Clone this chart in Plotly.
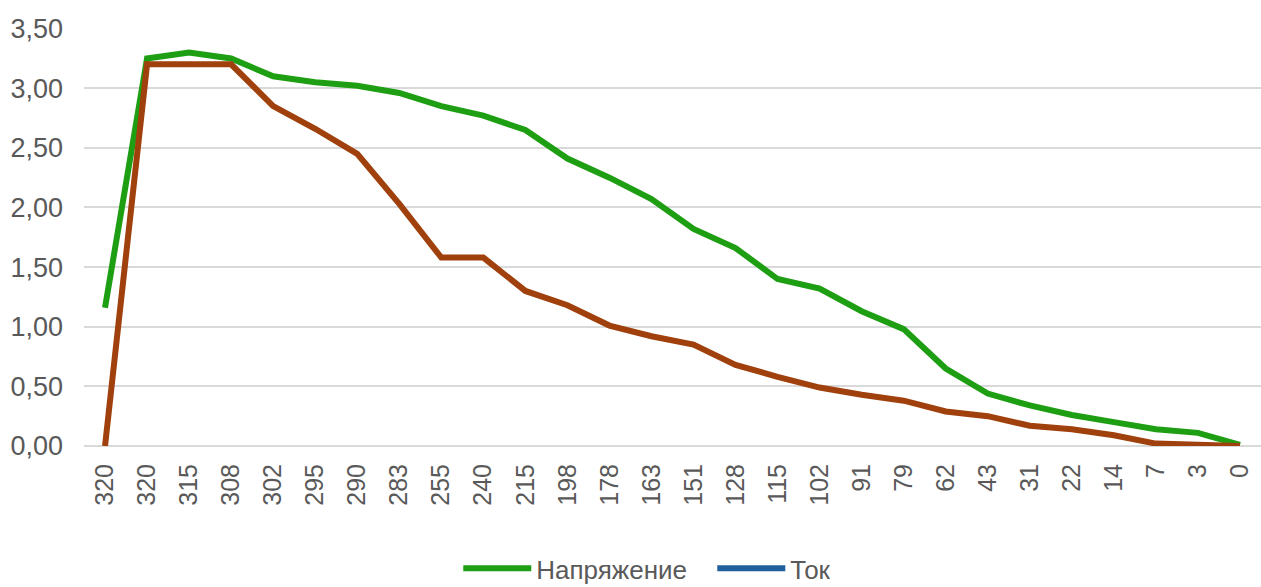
import plotly.graph_objects as go

categories = ["320", "320", "315", "308", "302", "295", "290", "283", "255", "240",
              "215", "198", "178", "163", "151", "128", "115", "102", "91", "79",
              "62", "43", "31", "22", "14", "7", "3", "0"]

voltage = [1.16, 3.25, 3.30, 3.25, 3.10, 3.05, 3.02, 2.96, 2.85, 2.77,
           2.65, 2.41, 2.25, 2.07, 1.82, 1.66, 1.40, 1.32, 1.13, 0.98,
           0.65, 0.44, 0.34, 0.26, 0.20, 0.14, 0.11, 0.01]

second_series = [0.00, 3.20, 3.20, 3.20, 2.85, 2.66, 2.45, 2.03, 1.58, 1.58,
                 1.30, 1.18, 1.01, 0.92, 0.85, 0.68, 0.58, 0.49, 0.43, 0.38,
                 0.29, 0.25, 0.17, 0.14, 0.09, 0.02, 0.01, 0.00]

current = [None] * len(categories)

idx = list(range(len(categories)))

fig = go.Figure()
fig.add_trace(go.Scatter(x=idx, y=voltage, mode="lines", name="Напряжение",
                         line=dict(color="#1E9E12", width=6)))
fig.add_trace(go.Scatter(x=idx, y=current, mode="lines", name="Ток",
                         line=dict(color="#1F5F9C", width=6)))
fig.add_trace(go.Scatter(x=idx, y=second_series, mode="lines", name="",
                         showlegend=False,
                         line=dict(color="#A0400C", width=6)))

fig.update_layout(
    width=1261, height=587,
    margin=dict(l=84, r=0, t=28, b=141, autoexpand=False),
    paper_bgcolor="white", plot_bgcolor="white",
    separators=", ",
    font=dict(family="Liberation Sans, Arial, sans-serif", color="#595959", size=22),
    showlegend=True,
    legend=dict(orientation="h", x=0.318, xanchor="left", y=-0.293, yanchor="middle",
                font=dict(size=26, color="#595959"), itemwidth=68,
                entrywidth=171, entrywidthmode="pixels",
                traceorder="normal"),
)
fig.update_xaxes(
    range=[-0.5, len(categories) - 0.5],
    tickmode="array", tickvals=idx, ticktext=categories,
    tickangle=-90, tickfont=dict(size=25, color="#595959"),
    showgrid=False, zeroline=False, showline=False,
    ticklabelstandoff=12, automargin=False,
)
fig.update_yaxes(
    range=[0, 3.505], dtick=0.5, tick0=0, tickformat=".2f",
    tickfont=dict(size=27, color="#595959"),
    showgrid=True, gridcolor="#D9D9D9", gridwidth=2,
    zeroline=True, zerolinecolor="#D9D9D9", zerolinewidth=2,
    showline=False, ticklabelstandoff=20, automargin=False,
)

fig.write_html("out.html", config={"displayModeBar": False},
               post_script="document.body.style.margin='0';document.body.style.overflow='hidden';")
